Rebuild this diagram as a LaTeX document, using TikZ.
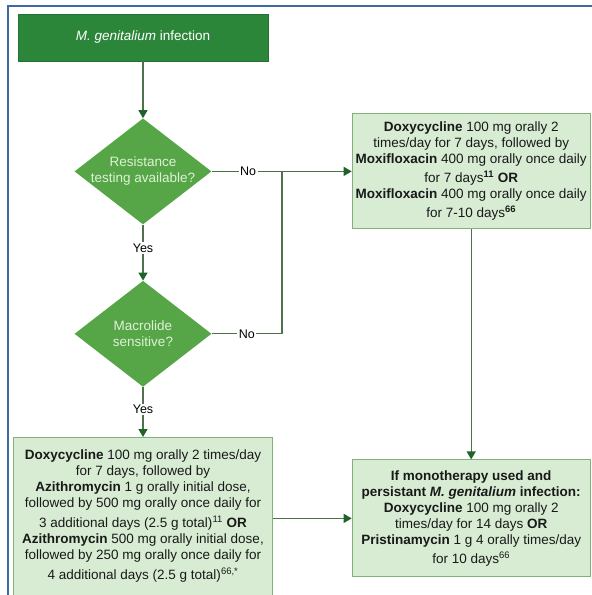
\documentclass[tikz,border=0pt]{standalone}
\usepackage{fontspec}
\setmainfont{Liberation Sans}
\usetikzlibrary{arrows.meta,shapes.geometric,positioning}

\definecolor{topgreen}{RGB}{44,134,58}
\definecolor{diagreen}{RGB}{86,166,72}
\definecolor{diatext}{RGB}{222,242,214}
\definecolor{boxfill}{RGB}{215,236,211}
\definecolor{boxedge}{RGB}{128,178,118}
\definecolor{linegreen}{RGB}{80,112,78}
\definecolor{tipgreen}{RGB}{32,98,42}
\definecolor{framecol}{RGB}{62,106,160}

\tikzset{
  startbox/.style={rectangle, fill=topgreen, draw=topgreen!85!black, text=white,
    minimum width=250pt, minimum height=47pt},
  decision/.style={diamond, aspect=1.3, inner sep=-2pt, fill=diagreen, text=diatext,
    align=center, minimum width=137pt, minimum height=106pt},
  treatbox/.style={rectangle, fill=boxfill, draw=boxedge, line width=1pt, align=center,
    inner sep=2pt, text=black!90},
  flow/.style={draw=linegreen, line width=1.2pt, -{Triangle[width=9pt,length=8pt,color=tipgreen]}},
  plain/.style={draw=linegreen, line width=1.2pt},
  answer/.style={fill=white, inner sep=1.5pt, text=black, font=\fontsize{12.5}{14}\selectfont}
}

\begin{document}
\begin{tikzpicture}[x=1pt, y=-1pt, node distance=50pt, font=\fontsize{13.5}{16}\selectfont]
\useasboundingbox (0,0) rectangle (592,595);
\draw[framecol, line width=1.3pt] (8,600) -- (8,6) -- (600,6);

\node[startbox] (start) at (143,37.5) {\textit{M. genitalium} infection};
\node[decision] (resist) [below=57pt of start] {Resistance\\testing available?};
\node[decision] (macro) [below=56pt of resist] {Macrolide\\sensitive?};
\node[treatbox, minimum width=259pt, minimum height=158pt] (dualazi) [below=50pt of macro]
  {\textbf{Doxycycline} 100 mg orally 2 times/day\\
   for 7 days, followed by\\
   \textbf{Azithromycin} 1 g orally initial dose,\\
   followed by 500 mg orally once daily for\\[4pt]
   3 additional days (2.5 g total)\textsuperscript{11} \textbf{OR}\\
   \textbf{Azithromycin} 500 mg orally initial dose,\\
   followed by 250 mg orally once daily for\\[4pt]
   4 additional days (2.5 g total)\textsuperscript{66,*}};
\node[treatbox, minimum width=238pt, minimum height=115pt] (moxi) [right=140pt of resist]
  {\textbf{Doxycycline} 100 mg orally 2\\
   times/day for 7 days, followed by\\
   \textbf{Moxifloxacin} 400 mg orally once daily\\[3pt]
   for 7 days\textsuperscript{\textbf{11}} \textbf{OR}\\
   \textbf{Moxifloxacin} 400 mg orally once daily\\[3pt]
   for 7-10 days\textsuperscript{\textbf{66}}};
\node[treatbox, minimum width=238pt, minimum height=117pt] (persist) [below=230pt of moxi]
  {\textbf{If monotherapy used and}\\
   \textbf{persistant \textit{M. genitalium} infection:}\\
   \textbf{Doxycycline} 100 mg orally 2\\
   times/day for 14 days \textbf{OR}\\
   \textbf{Pristinamycin} 1 g 4 orally times/day\\[3pt]
   for 10 days\textsuperscript{66}};
\coordinate (join) at (282,0 |- resist.east);

\draw[flow] (start) -- (resist);
\draw[flow] (resist) -- node[answer, pos=.42] {Yes} (macro);
\draw[flow] (macro) -- node[answer, pos=.45] {Yes} (dualazi);
\draw[flow] (resist) -- node[answer, pos=.26] {No} (moxi);
\draw[plain] (macro.east) -- node[answer] {No} (macro.east -| join) -- (join);
\draw[flow] (moxi) -- (persist);
\draw[flow] (dualazi.east |- persist.west) -- (persist.west);
\end{tikzpicture}
\end{document}
